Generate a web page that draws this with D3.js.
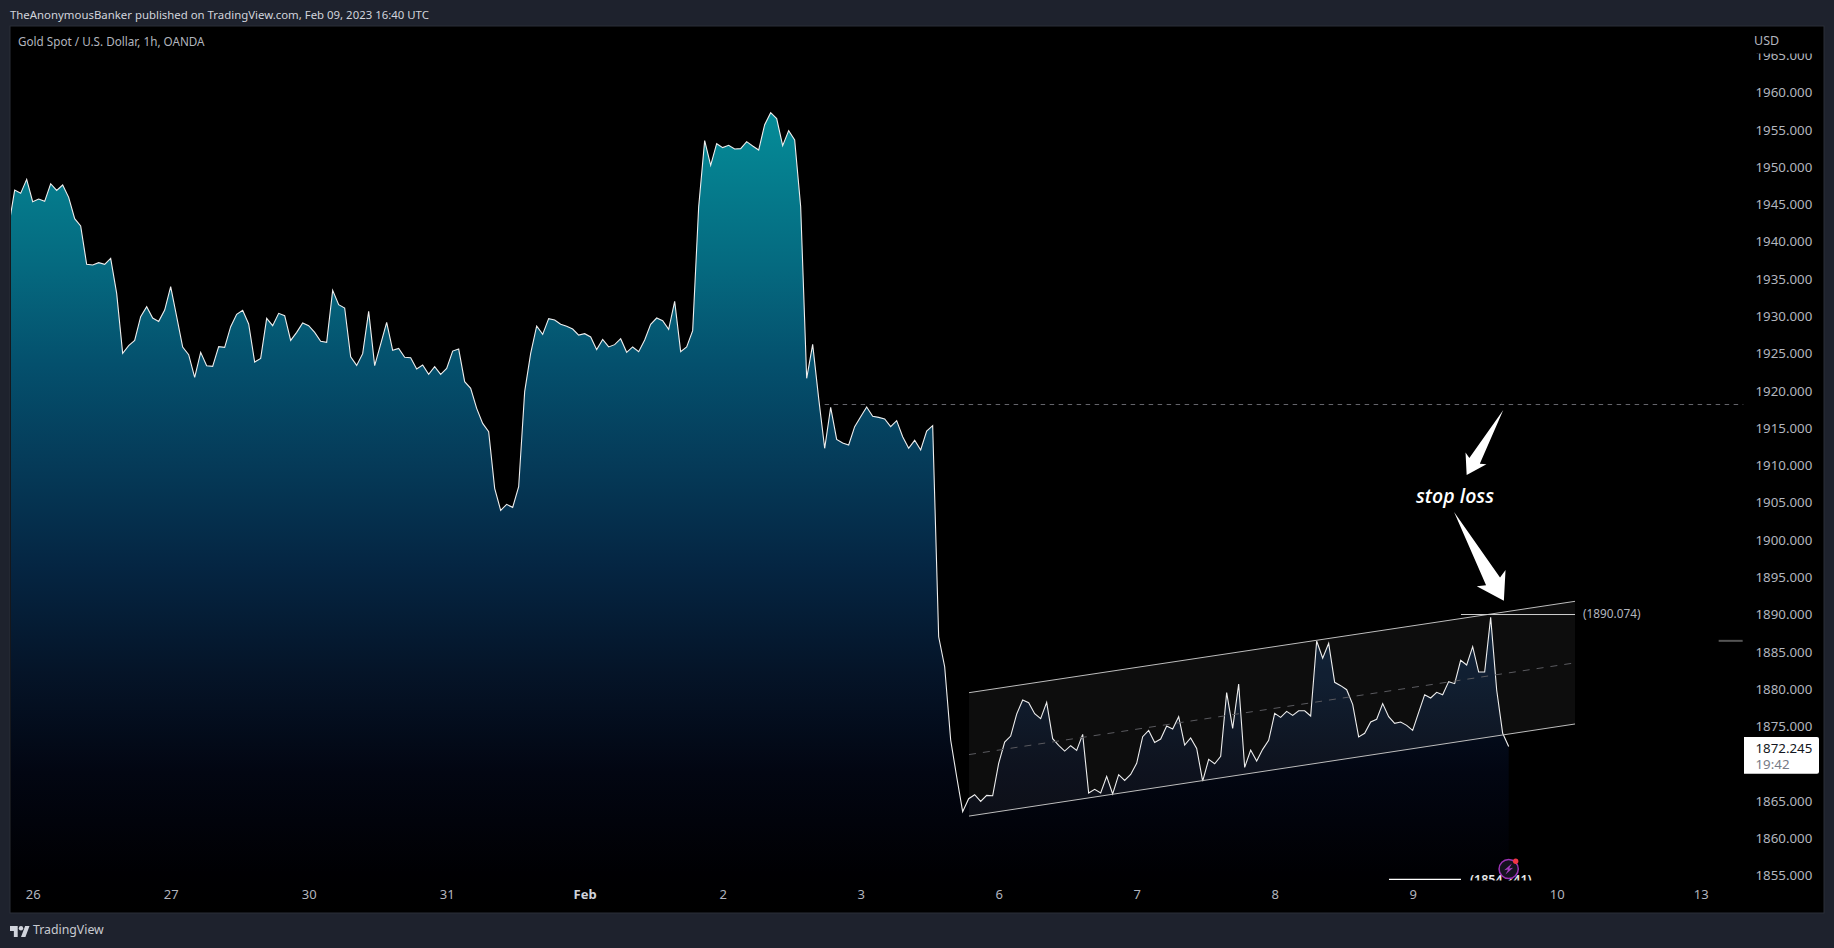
<!DOCTYPE html>
<html><head><meta charset="utf-8">
<style>html,body{margin:0;padding:0;background:#1e222d;overflow:hidden}svg{display:block}text{font-family:"Noto Sans",sans-serif}</style>
<script src="https://cdn.jsdelivr.net/npm/d3@7/dist/d3.min.js"></script>
</head><body><svg id="c" width="1834" height="948"></svg>
<script>
const closes=[1941.94,1946.85,1946.41,1948.29,1945.29,1945.65,1945.34,1947.70,1946.81,1947.53,1945.87,1943.01,1942.03,1936.89,1936.80,1937.11,1936.89,1937.69,1933.00,1924.95,1925.98,1926.69,1929.87,1931.21,1929.69,1929.24,1930.76,1933.89,1929.87,1925.80,1924.77,1921.73,1925.09,1923.30,1923.21,1925.85,1925.76,1928.53,1930.18,1930.72,1928.89,1923.79,1924.28,1929.65,1928.66,1930.32,1930.00,1926.69,1927.77,1929.02,1928.66,1927.77,1926.56,1926.43,1933.40,1931.48,1931.03,1924.50,1923.34,1924.91,1930.58,1923.30,1926.20,1929.11,1925.35,1925.62,1924.42,1924.37,1922.85,1923.39,1922.14,1923.16,1922.14,1922.94,1925.26,1925.53,1921.15,1920.26,1917.58,1915.56,1914.45,1906.85,1903.90,1904.70,1904.30,1907.07,
1919.82,1924.96,1928.62,1927.50,1929.61,1929.43,1928.85,1928.58,1928.22,1927.41,1927.59,1927.15,1925.45,1926.83,1925.81,1926.12,1926.92,1925.09,1925.81,1925.18,1926.74,1928.85,1929.69,1929.34,1928.17,1931.93,1925.18,1925.81,1928.00,1944.62,1953.48,1950.17,1953.07,1952.54,1952.85,1952.36,1952.40,1953.34,1952.76,1952.22,1955.62,1957.23,1956.43,1952.80,1954.82,1953.56,1944.62,1921.60,1926.16,1918.92,1912.22,1917.71,1913.42,1912.93,1912.66,1915.12,1916.46,1917.76,1916.51,1916.37,1916.15,1915.12,1915.93,1913.78,1912.22,1913.29,1911.99,1914.54,1915.26,
1886.95,1882.93,1873.10,1868.18,1863.49,1865.23,1865.77,1864.87,1865.68,1865.63,1869.97,1872.83,1873.63,1876.58,1878.46,1878.10,1876.63,1875.96,1878.15,1873.28,1872.38,1871.62,1872.34,1871.71,1873.86,1865.99,1866.48,1865.99,1868.23,1865.86,1868.45,1867.69,1868.49,1869.97,1873.54,1874.39,1872.78,1873.23,1874.97,1874.57,1876.23,1872.43,1873.37,1871.98,1867.60,1870.50,1869.92,1870.91,1879.45,1874.66,1880.61,1869.43,1871.76,1870.28,1871.85,1873.05,1876.67,1876.14,1876.94,1876.41,1877.03,1877.03,1876.32,
1886.38,1884.06,1886.07,1880.84,1880.39,1879.85,1877.89,1873.51,1874.00,1875.52,1875.88,1877.98,1876.23,1875.34,1875.52,1875.07,1874.40,1876.81,1879.18,1878.74,1879.50,1879.18,1880.93,1880.66,1883.79,1883.16,1885.62,1882.22,1882.22,1889.55,1879.81,1874.00,1872.245];
const priceTicks=[1965,1960,1955,1950,1945,1940,1935,1930,1925,1920,1915,1910,1905,1900,1895,1890,1885,1880,1875,1865,1860,1855];
const dayLabels=["26","27","30","31","Feb","2","3","6","7","8","9","10","13"];
const dayBars=[4,27,50,73,96,119,142,165,188,211,234,258,282];
const channelUpper=[[160.06,1879.45],[261.06,1891.7]];
const channelMiddle=[[160.06,1871.15],[261.06,1883.45]];
const channelLower=[[160.06,1862.9],[261.06,1875.25]];
const stopLine=[[242.05,1889.93],[261.06,1889.93]];
const targetLine=[[230.05,1854.42],[242.05,1854.42]];
const resistance=[[136,1918.09],[289.1,1918.09]];
const stub=[[285,1886.4],[289,1886.4]];
const arrowUpper={tail:[249.1,1917.36],tip:[243,1908.64],head:19,half:12,neck:6};
const arrowLower={tail:[240.9,1903.68],tip:[249.2,1891.78],head:26,half:16.5,neck:8};

const svg=d3.select("#c");
const x=d3.scaleLinear().domain([0,282]).range([8.67,1700.67]);
const y=d3.scaleLinear().domain([1960,1855]).range([92,875]);
const pane={l:11,t:27,r:1823,b:912};
const defs=svg.append("defs");
defs.append("clipPath").attr("id","pane").append("rect").attr("x",pane.l).attr("y",pane.t).attr("width",pane.r-pane.l).attr("height",pane.b-pane.t);
defs.append("clipPath").attr("id","low").append("rect").attr("x",1380).attr("y",860).attr("width",200).attr("height",20.5);
defs.append("clipPath").attr("id","clip1965").append("rect").attr("x",-10).attr("y",-1.7).attr("width",90).attr("height",12);
const g=defs.append("linearGradient").attr("id","fill").attr("gradientUnits","userSpaceOnUse").attr("x1",0).attr("x2",0).attr("y1",y(d3.max(closes))).attr("y2",pane.b);
[[0,"#058c98"],[0.19,"#056a80"],[0.315,"#04506d"],[0.443,"#053a58"],[0.57,"#052542"],[0.70,"#051428"],[0.825,"#020612"],[0.95,"#000003"],[1,"#000000"]].forEach(s=>g.append("stop").attr("offset",s[0]).attr("stop-color",s[1]));

svg.append("rect").attr("width",1834).attr("height",948).attr("fill","#1e222d");
svg.append("rect").attr("x",pane.l-1).attr("y",pane.t-1).attr("width",pane.r-pane.l+2).attr("height",pane.b-pane.t+2).attr("fill","#000").attr("stroke","#2a2e39").attr("stroke-width",1);

const plot=svg.append("g").attr("clip-path","url(#pane)");
const series=closes.map((v,i)=>[i,v]);
const area=d3.area().x(d=>x(d[0])).y0(pane.b).y1(d=>y(d[1]));
const line=d3.line().x(d=>x(d[0])).y(d=>y(d[1]));
plot.append("path").datum(series).attr("d",area).attr("fill","url(#fill)");
const band=d3.area().x(d=>x(d[0])).y0((d,i)=>y(channelLower[i][1])).y1(d=>y(d[1]));
plot.append("path").datum(channelUpper).attr("d",band).attr("fill","#fff").attr("fill-opacity",0.052);
plot.append("path").datum(series).attr("d",line).attr("fill","none").attr("stroke","#eeeeee").attr("stroke-width",1.1);
[channelUpper,channelLower].forEach(c=>plot.append("path").datum(c).attr("d",line).attr("stroke","#bdbdbd").attr("stroke-width",1).attr("fill","none"));
plot.append("path").datum(channelMiddle).attr("d",line).attr("stroke","#5a5a5f").attr("stroke-width",1).attr("stroke-dasharray","7 7").attr("fill","none");
plot.append("path").datum(resistance).attr("d",line).attr("stroke","#66666c").attr("stroke-width",1).attr("stroke-dasharray","4.5 4.5").attr("fill","none");
plot.append("path").datum(stopLine).attr("d",line).attr("stroke","#cfcfcf").attr("stroke-width",1).attr("fill","none");
plot.append("path").datum(targetLine).attr("d",line).attr("stroke","#ffffff").attr("stroke-width",1.2).attr("fill","none");
plot.append("path").datum(stub).attr("d",line).attr("stroke","#555").attr("stroke-width",2).attr("fill","none");

plot.append("text").attr("x",x(stopLine[1][0])+8).attr("y",y(1890.074)).attr("dy","0.4em").attr("fill","#b2b5be").attr("font-size",11.8).text("(1890.074)");
plot.append("text").attr("clip-path","url(#low)").attr("x",1470).attr("y",879.5).attr("dy","0.35em").attr("fill","#e8e8e8").attr("font-size",12.5).attr("font-weight",600).text("(1854.241)");

function arrow(a){
  const t=[x(a.tail[0]),y(a.tail[1])],p=[x(a.tip[0]),y(a.tip[1])];
  const dx=p[0]-t[0],dy=p[1]-t[1],L=Math.hypot(dx,dy),u=[dx/L,dy/L],n=[-u[1],u[0]];
  const at=(d,w)=>[p[0]-u[0]*d+n[0]*w,p[1]-u[1]*d+n[1]*w];
  return [t,at(a.head*0.85,a.neck),at(a.head,a.half),p,at(a.head,-a.half),at(a.head*0.85,-a.neck)];
}
[arrowUpper,arrowLower].forEach(a=>plot.append("path").attr("d",d3.line()(arrow(a))+"Z").attr("fill","#fff"));
plot.append("text").attr("x",x(241.06)).attr("y",y(1905.82)).attr("dy","0.34em").attr("text-anchor","middle").attr("fill","#fff").attr("font-size",19.5).attr("font-style","italic").attr("font-weight",600).attr("style",'font-family:"Open Sans",sans-serif').text("stop loss");

const badge=svg.append("g").attr("transform",`translate(${x(250)},869)`);
badge.append("circle").attr("r",9.6).attr("fill","#14121f").attr("stroke","#9c33b5").attr("stroke-width",1.5);
badge.append("path").attr("d","M3.2,-5.5 L-4.5,1.2 L-0.5,0.6 L-3.2,5.5 L4.5,-1.2 L0.5,-0.6 Z").attr("fill","#a63cc0");
badge.append("circle").attr("cx",7).attr("cy",-7.7).attr("r",2.7).attr("fill","#f23645");

const yAxis=d3.axisRight(y).tickValues(priceTicks).tickSize(0).tickPadding(0).tickFormat(d3.format(".3f"));
const ya=svg.append("g").attr("transform","translate(1755.5,0)").call(yAxis);
ya.select(".domain").remove();
ya.selectAll("text").attr("dy","0.36em").attr("font-size",13.3).attr("fill","#b2b5be").attr("style",'font-family:"Noto Sans",sans-serif');
ya.selectAll(".tick").filter(d=>d===1965).attr("clip-path","url(#clip1965)");

const xAxis=d3.axisBottom(x).tickValues(dayBars).tickSize(0).tickPadding(0).tickFormat((d,i)=>dayLabels[i]);
const xa=svg.append("g").attr("transform","translate(0,889)").call(xAxis);
xa.select(".domain").remove();
xa.selectAll("text").attr("y",0).attr("dy","0.78em").attr("font-size",13).attr("fill","#b2b5be").attr("style",'font-family:"Noto Sans",sans-serif');
xa.selectAll("text").filter(d=>d===96).attr("font-weight",700).attr("fill","#d1d4dc");

svg.append("path").attr("d","M1744,737H1817a2,2 0 0 1 2,2V771.7a2,2 0 0 1 -2,2H1744Z").attr("fill","#fff");
svg.append("text").attr("x",1755.5).attr("y",748).attr("dy","0.36em").attr("font-size",13.3).attr("fill","#131722").text(d3.format(".3f")(closes[closes.length-1]));
svg.append("text").attr("x",1755.5).attr("y",764).attr("dy","0.36em").attr("font-size",13.3).attr("fill","#787b86").text("19:42");

svg.append("text").attr("x",10).attr("y",15).attr("dy","0.35em").attr("font-size",11.4).attr("fill","#d1d4dc").text("TheAnonymousBanker published on TradingView.com, Feb 09, 2023 16:40 UTC");
svg.append("text").attr("x",18).attr("y",42).attr("dy","0.35em").attr("font-size",11.7).attr("fill","#b2b5be").text("Gold Spot / U.S. Dollar, 1h, OANDA");
svg.append("text").attr("x",1754).attr("y",41).attr("dy","0.35em").attr("font-size",12.5).attr("fill","#b2b5be").text("USD");

const logo=svg.append("g").attr("transform","translate(10,925) scale(0.55)").attr("fill","#d1d4dc");
logo.append("path").attr("d","M14 22H7V11H0V2h14v20zM28 22h-8l7.5-20h8L28 22z");
logo.append("circle").attr("cx",20).attr("cy",6).attr("r",4);
svg.append("text").attr("x",33).attr("y",930).attr("dy","0.35em").attr("font-size",12.3).attr("fill","#c8cad0").text("TradingView");
</script></body></html>
